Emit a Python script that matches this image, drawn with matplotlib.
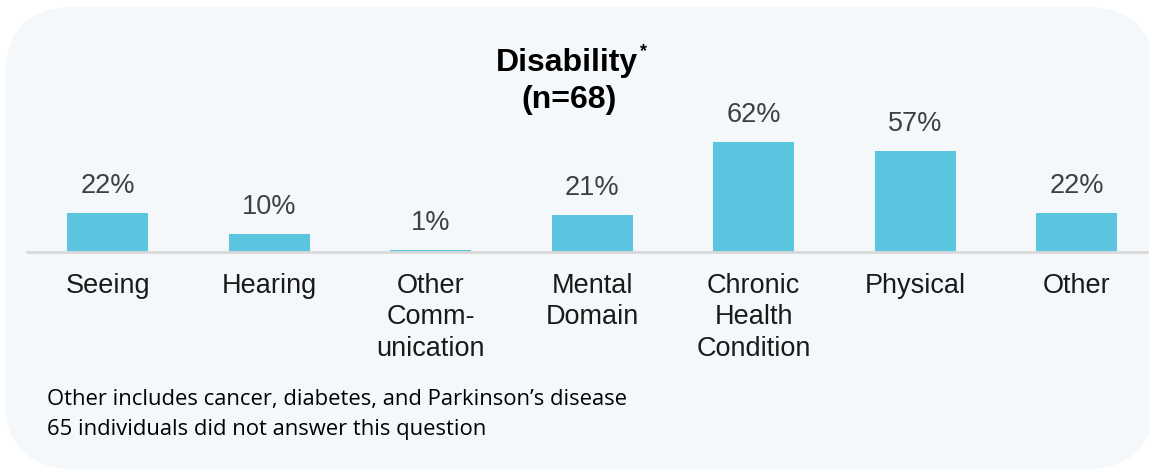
import matplotlib as mpl
import matplotlib.pyplot as plt
from matplotlib.patches import FancyBboxPatch

mpl.rc('font', family=['Liberation Sans', 'DejaVu Sans'])

categories = ['Seeing', 'Hearing', 'Other\nComm-\nunication', 'Mental\nDomain',
              'Chronic\nHealth\nCondition', 'Physical', 'Other']
percents = [22, 10, 1, 21, 62, 57, 22]
title = 'Disability'
subtitle = '(n=68)'
notes = ['Other includes cancer, diabetes, and Parkinson\u2019s disease',
         '65 individuals did not answer this question']

W, H = 1149, 470
fig = plt.figure(figsize=(W / 100, H / 100), dpi=100)
fig.patch.set_facecolor('white')

# rounded panel behind everything, in pixel coords
bg = fig.add_axes([0, 0, 1, 1], zorder=-1)
bg.set_xlim(0, W)
bg.set_ylim(H, 0)
bg.axis('off')
bg.add_patch(FancyBboxPatch((5, 7), 1150, 462,
                            boxstyle='round,pad=0,rounding_size=70',
                            facecolor='#f5f8fa', edgecolor='none'))

ax = fig.add_axes([27 / W, 218 / H, (W - 27) / W, 124 / H])
ax.set_facecolor('none')
x = range(len(categories))
ax.bar(x, percents, width=0.5, color='#5bc5e0', zorder=2)
for xi, p in zip(x, percents):
    ax.annotate(f'{p}%', (xi, p), xytext=(0, 10), textcoords='offset points',
                ha='center', va='bottom', fontsize=19.5, color='#404040')

ax.set_xlim(-0.5, (W - 27) / 161.5 - 0.5)
ax.set_ylim(0, 124 / 1.774)
ax.set_xticks(list(x))
ax.set_xticklabels(categories, fontsize=19.5, color='#1a1a1a', linespacing=1.27)
ax.tick_params(axis='x', length=0, pad=15)
ax.set_yticks([])
for s in ['top', 'left', 'right']:
    ax.spines[s].set_visible(False)
ax.spines['bottom'].set_color('#d9d9d9')
ax.spines['bottom'].set_linewidth(2)

fig.text(567 / W, 1 - 63 / H, title, ha='center', va='center',
         fontsize=23, fontweight='bold', color='black')
fig.text(640 / W, 1 - 52 / H, '*', ha='left', va='center',
         fontsize=13, fontweight='bold', color='black')
fig.text(569 / W, 1 - 100 / H, subtitle, ha='center', va='center',
         fontsize=23, fontweight='bold', color='black')

for i, note in enumerate(notes):
    fig.text(47 / W, 1 - (400 + 30 * i) / H, note, ha='left', va='center',
             fontsize=15.8, color='black', family='Open Sans')

fig.savefig('out.png', dpi=100)
